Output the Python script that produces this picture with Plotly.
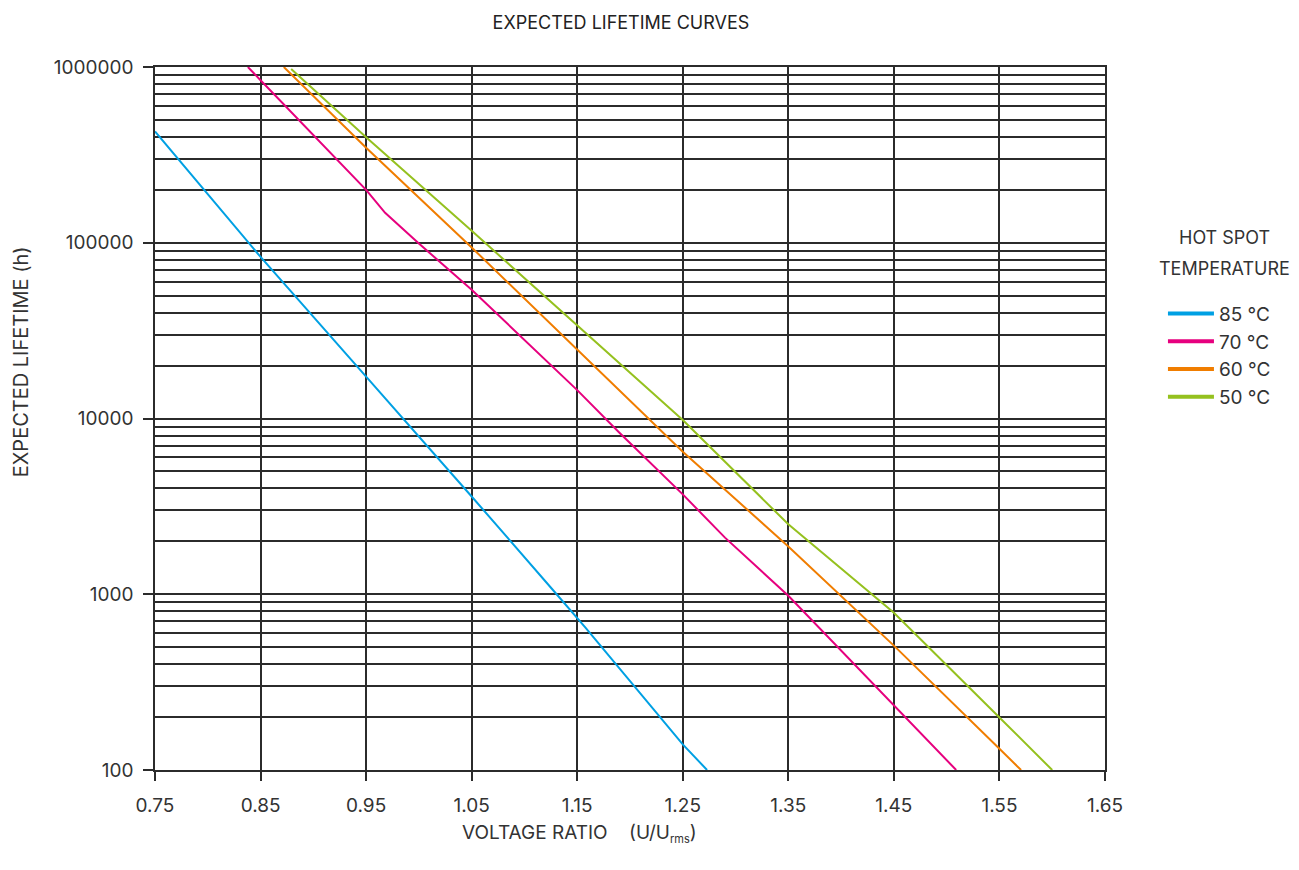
"""Expected lifetime curves vs voltage ratio, per hot spot temperature."""

import plotly.graph_objects as go

ratio_85 = [0.75, 0.85, 0.95, 1.05, 1.127, 1.158, 1.25, 1.273]
life_85 = [430000, 83000, 17300, 3600, 1057, 643, 140, 100]

ratio_70 = [0.838, 0.85, 0.95, 0.968, 1.0, 1.05, 1.15, 1.19, 1.25, 1.29, 1.35, 1.45, 1.509]
life_70 = [1000000, 840000, 200000, 148000, 99000, 54000, 14500, 8300, 3700, 2100, 980, 234, 100]

ratio_60 = [0.872, 0.95, 1.05, 1.15, 1.25, 1.35, 1.45, 1.55, 1.5705]
life_60 = [1000000, 347000, 94000, 24600, 6470, 1870, 510, 132, 100]

ratio_50 = [0.879, 0.95, 1.05, 1.15, 1.25, 1.35, 1.45, 1.55, 1.600]
life_50 = [975000, 398000, 117000, 33900, 9800, 2500, 785, 199, 100]

series = [
    ("85 °C", ratio_85, life_85, "#00a0e3"),
    ("70 °C", ratio_70, life_70, "#e6007e"),
    ("60 °C", ratio_60, life_60, "#f07d00"),
    ("50 °C", ratio_50, life_50, "#95c11f"),
]

x_ticks = [0.75, 0.85, 0.95, 1.05, 1.15, 1.25, 1.35, 1.45, 1.55, 1.65]
y_ticks = [100, 1000, 10000, 100000, 1000000]

GRID = "#2b2b2b"
TEXT = "#333333"
FONT = "Inter"
SIZE = 19

fig = go.Figure()

for name, xs, ys, color in series:
    fig.add_trace(
        go.Scatter(
            x=xs,
            y=ys,
            mode="lines",
            name=name,
            legendgroup=name,
            showlegend=False,
            line=dict(color=color, width=2),
        )
    )
    # thicker swatch for the legend only
    fig.add_trace(
        go.Scatter(
            x=[None],
            y=[None],
            mode="lines",
            name=name,
            legendgroup=name,
            line=dict(color=color, width=4),
        )
    )

minor_y = [m * 10 ** e for e in range(2, 6) for m in range(2, 10)]

fig.update_layout(
    width=1299,
    height=870,
    paper_bgcolor="white",
    plot_bgcolor="white",
    font=dict(family=FONT, size=SIZE, color=TEXT),
    margin=dict(l=147, r=202, t=59, b=108),
    title=dict(
        text="EXPECTED LIFETIME CURVES",
        x=0.4905,
        xref="paper",
        xanchor="center",
        y=0.983,
        yanchor="middle",
        font=dict(size=18, color="#222222"),
    ),
    xaxis=dict(
        range=[0.75, 1.65],
        tickvals=x_ticks,
        ticktext=[f"{v:.2f}" for v in x_ticks],
        ticks="outside",
        ticklen=9,
        tickwidth=1.5,
        tickcolor=GRID,
        ticklabelstandoff=8,
        showgrid=True,
        gridcolor=GRID,
        gridwidth=1.5,
        showline=True,
        linecolor=GRID,
        linewidth=1.5,
        mirror=True,
        zeroline=False,
    ),
    yaxis=dict(
        type="log",
        range=[2, 6],
        tickvals=y_ticks,
        ticktext=[str(v) for v in y_ticks],
        ticks="outside",
        ticklen=10,
        tickwidth=1.5,
        tickcolor=GRID,
        ticklabelstandoff=6,
        showgrid=True,
        gridcolor=GRID,
        gridwidth=1.5,
        minor=dict(tickvals=minor_y, showgrid=True, gridcolor=GRID, gridwidth=1.5, ticks=""),
        showline=True,
        linecolor=GRID,
        linewidth=1.5,
        mirror=True,
        zeroline=False,
    ),
    legend=dict(
        x=1.061,
        xanchor="left",
        y=0.676,
        yanchor="top",
        font=dict(size=SIZE),
        itemwidth=46,
        tracegroupgap=0,
        bgcolor="rgba(0,0,0,0)",
    ),
    showlegend=True,
)

# legend heading, centred over the items
for line, ypos in [("HOT SPOT", 0.757), ("TEMPERATURE", 0.714)]:
    fig.add_annotation(
        text=line,
        xref="paper",
        yref="paper",
        x=1.126,
        y=ypos,
        xanchor="center",
        yanchor="middle",
        showarrow=False,
        font=dict(size=18, color=TEXT),
    )

fig.add_annotation(
    text="EXPECTED LIFETIME (h)",
    textangle=-90,
    xref="paper",
    yref="paper",
    x=-0.141,
    y=0.58,
    xanchor="center",
    yanchor="middle",
    showarrow=False,
    font=dict(size=20, color=TEXT),
)

fig.add_annotation(
    text="VOLTAGE RATIO    (U/U<sub><span style='font-size:11px'>rms</span></sub>)",
    xref="paper",
    yref="paper",
    x=0.447,
    y=-0.091,
    xanchor="center",
    yanchor="middle",
    showarrow=False,
    font=dict(size=SIZE, color=TEXT),
)

fig.write_html("out.html")
